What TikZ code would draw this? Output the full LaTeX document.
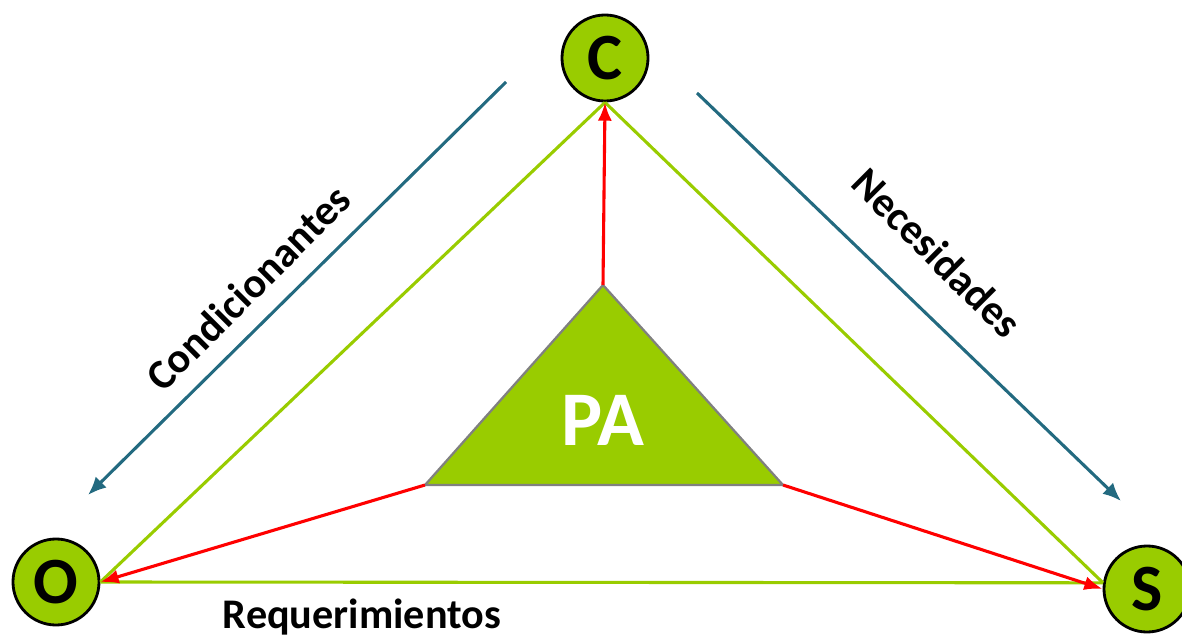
\documentclass[tikz,border=0pt]{standalone}
\usepackage{fontspec}
\setmainfont{Carlito}
\usepackage{tikz}
\usetikzlibrary{arrows,arrows.meta,positioning,calc,shapes}
\usepackage{xcolor}
\definecolor{verde}{HTML}{99CC00}
\definecolor{azul}{HTML}{236A80}

\tikzset{
  vertice/.style={circle, draw=black, line width=2pt, fill=verde, minimum size=2.15cm, inner sep=0pt, font=\bfseries\fontsize{47}{47}\selectfont},
  lado/.style={verde, line width=2.2pt},
  flecha/.style={-{Latex[length=13pt,width=10pt]}, red, line width=2.2pt},
  rumbo/.style={-{Latex[length=13pt,width=11pt]}, azul, line width=2.2pt},
  etiqueta/.style={font=\bfseries\fontsize{30}{30}\selectfont}
}

\begin{document}
\begin{tikzpicture}[x=0.025cm, y=-0.025cm]
  \useasboundingbox (0,0) rectangle (1182,636);

  \node[vertice] (C) at (605,58) {C};
  \node[vertice] (O) at (56,582) {O};
  \node[vertice] (S) at (1147,589) {S};

  % triangulo interior
  \coordinate (pa1) at (603,285);
  \coordinate (pa2) at (425,485);
  \coordinate (pa3) at (783,485);
  \fill[verde] (pa1) -- (pa2) -- (pa3) -- cycle;
  \draw[gray, line width=1.6pt] (pa1) -- (pa2) -- (pa3) -- cycle;
  \node[text=white, font=\bfseries\fontsize{55}{55}\selectfont] (PA) at (603,420) {PA};

  \draw[lado] (C.south) -- (O.east);
  \draw[lado] (C.south) -- (S.172);
  \draw[lado] (O.east) -- (S.172);

  \draw[flecha] (pa1) -- (C.south);
  \draw[flecha] (pa2) -- (O.east);
  \draw[flecha] (pa3) -- (S.west);

  \coordinate (c1) at (506,82);
  \coordinate (c2) at (88,495);
  \coordinate (n1) at (697,93);
  \coordinate (n2) at (1121,501);
  \draw[rumbo] (c1) -- (c2);
  \draw[rumbo] (n1) -- (n2);

  \node[etiqueta, rotate=45] (cond) at (248,288) {Condicionantes};
  \node[etiqueta, rotate=-45] (nec) at (937,253) {Necesidades};
  \node[etiqueta] (req) at (362,617) {Requerimientos};
\end{tikzpicture}
\end{document}
